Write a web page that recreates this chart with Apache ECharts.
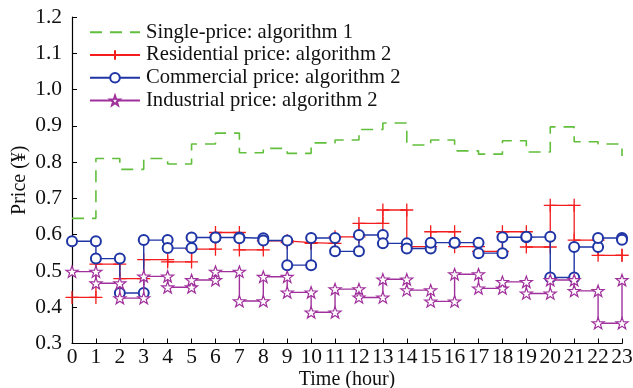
<!DOCTYPE html>
<html>
<head>
<meta charset="utf-8">
<script src="https://cdn.jsdelivr.net/npm/echarts@6/dist/echarts.min.js"></script>
<style>
  html, body { margin: 0; padding: 0; background: #fff; }
  #chart { width: 633px; height: 388px; }
</style>
</head>
<body>
<div id="chart"></div>
<script>
// Hourly prices (hour 0..23), drawn as stairs
const hours = [0,1,2,3,4,5,6,7,8,9,10,11,12,13,14,15,16,17,18,19,20,21,22,23];
const singlePrice = [0.645, 0.81, 0.78, 0.81, 0.795, 0.85, 0.88, 0.826, 0.838, 0.824, 0.853, 0.861,
                     0.89, 0.908, 0.847, 0.861, 0.831, 0.822, 0.859, 0.828, 0.897, 0.856, 0.85, 0.817];
const residential = [0.427, 0.519, 0.479, 0.531, 0.525, 0.560, 0.606, 0.558, 0.583, 0.578, 0.576, 0.594,
                     0.631, 0.668, 0.567, 0.608, 0.567, 0.554, 0.608, 0.566, 0.681, 0.585, 0.543, 0.543];
const commercial = [0.582, 0.534, 0.439, 0.585, 0.563, 0.592, 0.592, 0.590, 0.584, 0.516, 0.591, 0.554,
                    0.599, 0.576, 0.562, 0.578, 0.578, 0.549, 0.593, 0.594, 0.482, 0.566, 0.591, 0.586];
const industrial = [0.498, 0.466, 0.425, 0.485, 0.455, 0.475, 0.498, 0.417, 0.484, 0.441, 0.386, 0.450,
                    0.427, 0.477, 0.447, 0.416, 0.491, 0.452, 0.470, 0.438, 0.475, 0.445, 0.356, 0.475];
const yTicks = { min: 0.3, max: 1.2, step: 0.1 };
const xTicks = { min: 0, max: 23, step: 1 };

const seriesNames = [
  'Single-price: algorithm 1',
  'Residential price: algorithm 2',
  'Commercial price: algorithm 2',
  'Industrial price: algorithm 2'
];

// Expand a value list into stair vertices: horizontal run then vertical jump,
// so every corner carries a marker.
function stairs(xs, ys) {
  const pts = [];
  for (let i = 0; i < xs.length; i++) {
    if (i > 0) pts.push([xs[i], ys[i - 1]]);
    pts.push([xs[i], ys[i]]);
  }
  return pts;
}

const FONT = "'Liberation Serif', 'Times New Roman', serif";
const GREEN = '#62bf3c', RED = '#f41c1c', BLUE = '#1f35a5', PURPLE = '#a0319c';

const STAR = 'path://M10,0L12.35,6.76L19.51,6.91L13.8,11.24L15.88,18.09L10,14L4.12,18.09L6.2,11.24L0.49,6.91L7.65,6.76Z';
const PLUS = 'path://M0,6L12,6M6,0L6,12';

const chart = echarts.init(document.getElementById('chart'), null, { renderer: 'canvas' });

chart.setOption({
  animation: false,
  backgroundColor: '#fff',
  textStyle: { fontFamily: FONT },
  grid: { left: 72, right: 11, top: 17, bottom: 44.5, outerBoundsMode: 'none', containLabel: false },
  legend: {
    orient: 'vertical',
    left: 84,
    top: 16,
    itemWidth: 50,
    itemHeight: 12,
    itemGap: 0,
    data: [
      // dashed line only, no marker
      { name: seriesNames[0], itemStyle: { opacity: 0 } },
      seriesNames[1],
      seriesNames[2],
      seriesNames[3]
    ],
    textStyle: { fontFamily: FONT, fontSize: 20.6, color: '#111', lineHeight: 22.7, padding: [0, 0, 0, 1] }
  },
  xAxis: {
    type: 'value',
    min: xTicks.min, max: xTicks.max, interval: xTicks.step,
    name: 'Time (hour)',
    nameLocation: 'middle',
    nameGap: 26,
    nameMoveOverlap: false,
    nameTextStyle: { fontFamily: FONT, fontSize: 20, color: '#111' },
    axisLine: { onZero: false, lineStyle: { color: '#000', width: 1.2 } },
    axisTick: { inside: true, length: 5, lineStyle: { color: '#000' } },
    axisLabel: { fontFamily: FONT, fontSize: 21.5, color: '#111', margin: 3 },
    splitLine: { show: false }
  },
  yAxis: {
    type: 'value',
    min: yTicks.min, max: yTicks.max, interval: yTicks.step,
    name: 'Price (¥)',
    nameLocation: 'middle',
    nameGap: 42,
    nameMoveOverlap: false,
    nameTextStyle: { fontFamily: FONT, fontSize: 20, color: '#111' },
    axisLine: { show: true, lineStyle: { color: '#000', width: 1.2 } },
    axisTick: { show: true, inside: true, length: 5, lineStyle: { color: '#000' } },
    axisLabel: { fontFamily: FONT, fontSize: 21.5, color: '#111', margin: 10,
                 formatter: v => v.toFixed(1) },
    splitLine: { show: false }
  },
  series: [
    {
      name: seriesNames[0],
      type: 'line',
      data: stairs(hours, singlePrice),
      symbol: 'none',
      color: GREEN,
      lineStyle: { color: GREEN, width: 1.6, type: [12, 8] },
      z: 2
    },
    {
      name: seriesNames[1],
      type: 'line',
      data: stairs(hours, residential),
      symbol: PLUS,
      symbolSize: 13,
      color: RED,
      itemStyle: { color: RED, borderColor: RED, borderWidth: 1.3 },
      lineStyle: { color: RED, width: 1.3 },
      z: 3
    },
    {
      name: seriesNames[2],
      type: 'line',
      data: stairs(hours, commercial),
      symbol: 'emptyCircle',
      symbolSize: 10,
      color: BLUE,
      itemStyle: { color: BLUE, borderColor: BLUE, borderWidth: 1.3 },
      lineStyle: { color: BLUE, width: 1.4 },
      z: 4
    },
    {
      name: seriesNames[3],
      type: 'line',
      data: stairs(hours, industrial),
      symbol: STAR,
      symbolSize: 12,
      symbolKeepAspect: true,
      color: PURPLE,
      itemStyle: { color: '#fff', borderColor: PURPLE, borderWidth: 1.2 },
      lineStyle: { color: PURPLE, width: 1.4 },
      z: 5
    }
  ]
});
</script>
</body>
</html>
